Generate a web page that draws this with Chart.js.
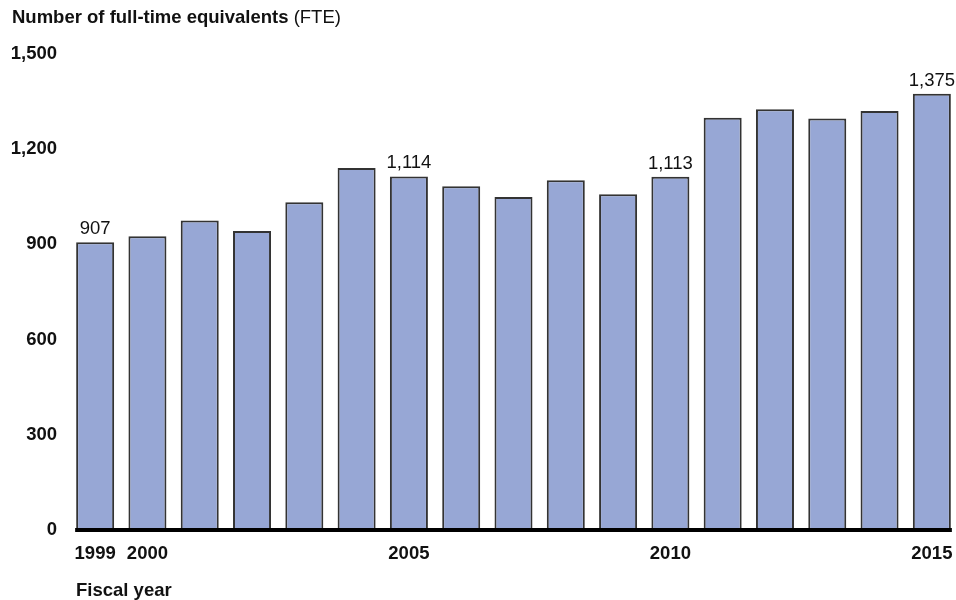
<!DOCTYPE html>
<html>
<head>
<meta charset="utf-8">
<script src="https://cdn.jsdelivr.net/npm/chart.js@4/dist/chart.umd.min.js"></script>
<style>
    html, body { margin: 0; padding: 0; background: #fff; overflow: hidden; }
    #wrap { width: 956px; height: 600px; overflow: hidden; position: relative; }
    #chart { position: absolute; left: 0; top: 0; }
</style>
</head>
<body>
<div id="wrap">
    <canvas id="chart" width="960" height="600"></canvas>
</div>
<script>
// data
const years = ['1999', '2000', '2001', '2002', '2003', '2004', '2005', '2006', '2007',
               '2008', '2009', '2010', '2011', '2012', '2013', '2014', '2015'];
const fte = [907, 926, 975, 942, 1033, 1141, 1114, 1083, 1049, 1102, 1058, 1113, 1299, 1326, 1297, 1320, 1375];
const shownYears = ['1999', '2000', '2005', '2010', '2015'];
const labelledYears = ['1999', '2005', '2010', '2015'];
const yTicks = [0, 300, 600, 900, 1200, 1500];

const titleBold = 'Number of full-time equivalents';
const titleNormal = ' (FTE)';
const xTitle = 'Fiscal year';

const FONT = '"Liberation Sans", Arial, Helvetica, sans-serif';

const extras = {
    id: 'extras',
    afterDatasetsDraw: function(chart) {
        const ctx = chart.ctx;
        const meta = chart.getDatasetMeta(0);
        const y0 = chart.scales.y.getPixelForValue(0);
        const first = meta.data[0];
        const last = meta.data[meta.data.length - 1];

        // thick baseline
        ctx.save();
        ctx.fillStyle = '#000';
        ctx.fillRect(first.x - first.width / 2 - 1, y0 - 2, (last.x + last.width / 2) - (first.x - first.width / 2) + 2, 4);

        // value labels
        ctx.font = '18.5px ' + FONT;
        ctx.fillStyle = '#111';
        ctx.textAlign = 'center';
        ctx.textBaseline = 'alphabetic';
        meta.data.forEach(function(bar, i) {
            if (labelledYears.indexOf(years[i]) >= 0) {
                ctx.fillText(fte[i].toLocaleString('en-US'), bar.x, bar.y - 8);
            }
        });

        // titles
        ctx.textAlign = 'left';
        ctx.font = 'bold 18.5px ' + FONT;
        ctx.fillText(titleBold, 12, 23);
        const w = ctx.measureText(titleBold).width;
        ctx.font = '18.5px ' + FONT;
        ctx.fillText(titleNormal, 12 + w, 23);

        ctx.font = 'bold 18.5px ' + FONT;
        ctx.fillText(xTitle, 76, 596);
        ctx.restore();
    }
};

new Chart(document.getElementById('chart'), {
    type: 'bar',
    data: {
        labels: years,
        datasets: [{
            data: fte,
            backgroundColor: '#97a7d5',
            borderColor: '#333333',
            borderWidth: 2,
            borderSkipped: 'bottom',
            barPercentage: 0.727,
            categoryPercentage: 1.0
        }]
    },
    options: {
        responsive: false,
        animation: false,
        layout: { padding: { top: 54, right: 2, left: 0, bottom: 0 } },
        plugins: {
            legend: { display: false },
            tooltip: { enabled: false }
        },
        scales: {
            x: {
                grid: { display: false, drawTicks: false },
                border: { display: false },
                afterFit: function(scale) {
                    scale.height = 70;
                    scale.paddingLeft = 0;
                    scale.paddingRight = 0;
                },
                ticks: {
                    autoSkip: false,
                    maxRotation: 0,
                    padding: 13,
                    color: '#111',
                    font: { family: FONT, size: 18.5, weight: 'bold' },
                    callback: function(value, index) {
                        return shownYears.indexOf(years[index]) >= 0 ? years[index] : '';
                    }
                }
            },
            y: {
                min: 0,
                max: 1500,
                grid: { display: false, drawTicks: false },
                border: { display: false },
                afterFit: function(scale) { scale.width = 69; },
                afterBuildTicks: function(scale) {
                    scale.ticks = yTicks.map(function(v) { return { value: v }; });
                },
                ticks: {
                    padding: 12,
                    color: '#111',
                    font: { family: FONT, size: 18.5, weight: 'bold' },
                    callback: function(value) { return value.toLocaleString('en-US'); }
                }
            }
        }
    },
    plugins: [extras]
});
</script>
</body>
</html>
